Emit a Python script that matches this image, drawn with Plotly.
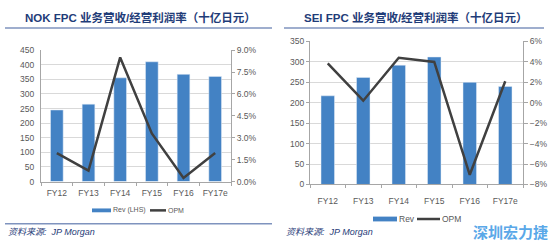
import plotly.graph_objects as go

categories = ["FY12", "FY13", "FY14", "FY15", "FY16", "FY17e"]
nok_rev = [245, 265, 355, 410, 367, 360]
nok_opm = [1.95, 0.75, 8.5, 3.3, 0.25, 1.95]
sei_rev = [217, 262, 292, 312, 250, 240]
sei_opm = [3.85, 0.2, 4.4, 4.0, -7.05, 2.1]

nok_title = "NOK FPC 业务营收/经营利润率（十亿日元）"
sei_title = "SEI FPC 业务营收/经营利润率（十亿日元）"
source_text = "资料来源:  JP Morgan"
watermark = "深圳宏力捷"

W, H = 556, 248
def px(x):
    return x / W
def py(y):
    return 1 - y / H

BAR = "#4382C4"
LINE = "#404040"
GRID = "#D9D9D9"
AXIS = "#A6A6A6"
TICKC = "#595959"
TITLEC = "#1F3C78"
RULE = "#7F93BE"
FONT = "Liberation Sans Narrow, Liberation Sans, Arial"

fig = go.Figure()
fig.add_trace(go.Bar(x=categories, y=nok_rev, marker_color=BAR, width=0.4,
                     xaxis="x", yaxis="y", showlegend=False))
fig.add_trace(go.Scatter(x=categories, y=nok_opm, mode="lines",
                         line=dict(color=LINE, width=2.5),
                         xaxis="x", yaxis="y2", showlegend=False))
fig.add_trace(go.Bar(x=categories, y=sei_rev, marker_color=BAR, width=0.38,
                     xaxis="x2", yaxis="y3", showlegend=False))
fig.add_trace(go.Scatter(x=categories, y=sei_opm, mode="lines",
                         line=dict(color=LINE, width=2.5),
                         xaxis="x2", yaxis="y4", showlegend=False))

tickfont = dict(family=FONT, size=8.5, color=TICKC)
xtickfont = dict(family=FONT, size=8.5, color=TICKC)
xcommon = dict(type="category", showline=True, linecolor=AXIS, linewidth=1,
               ticks="outside", tickson="boundaries", ticklen=3, tickcolor=AXIS,
               tickfont=xtickfont, tickangle=0, showgrid=False, zeroline=False,
               fixedrange=True)

fig.update_layout(
    width=W, height=H, margin=dict(l=0, r=0, t=0, b=0),
    paper_bgcolor="white", plot_bgcolor="white", showlegend=False,
    bargap=0.6,
    xaxis=dict(domain=[px(41), px(231)], anchor="y", ticklabelstandoff=3, **xcommon),
    yaxis=dict(domain=[py(184), py(47)], anchor="x", range=[0, 450], dtick=50,
               showline=True, linecolor=AXIS, showgrid=True, gridcolor=GRID,
               zeroline=False, ticks="", tickfont=tickfont, ticklabelstandoff=4),
    yaxis2=dict(overlaying="y", side="right", anchor="x", range=[0, 9], dtick=1.5,
                tickformat=".1f", ticksuffix="%", showgrid=False, zeroline=False,
                showline=True, linecolor=AXIS, ticks="outside", ticklen=3,
                tickcolor=AXIS, tickfont=tickfont),
    xaxis2=dict(domain=[px(310), px(523)], anchor="y3", ticklabelstandoff=8, **xcommon),
    yaxis3=dict(domain=[py(187), py(38)], anchor="x2", range=[0, 350], dtick=50,
                showline=True, linecolor=AXIS, showgrid=True, gridcolor=GRID,
                zeroline=False, ticks="outside", ticklen=3, tickcolor=AXIS,
                tickfont=tickfont),
    yaxis4=dict(overlaying="y3", side="right", anchor="x2", range=[-8, 6], dtick=2,
                tickformat="d", ticksuffix="%", showgrid=False, zeroline=False,
                showline=True, linecolor=AXIS, ticks="outside", ticklen=4,
                tickcolor=AXIS, tickfont=tickfont),
)

shapes = []
shapes.append(dict(type="line", xref="paper", yref="paper", x0=px(5), x1=px(272),
                   y0=py(24), y1=py(24), line=dict(color=RULE, width=1.5)))
shapes.append(dict(type="line", xref="paper", yref="paper", x0=px(284), x1=px(544),
                   y0=py(24), y1=py(24), line=dict(color=RULE, width=1.5)))
shapes.append(dict(type="line", xref="paper", yref="paper", x0=px(5), x1=px(272),
                   y0=py(228), y1=py(228), line=dict(color=RULE, width=1.5)))
shapes.append(dict(type="rect", xref="paper", yref="paper", x0=px(92), x1=px(111),
                   y0=py(216), y1=py(212), fillcolor=BAR, line=dict(width=0)))
shapes.append(dict(type="line", xref="paper", yref="paper", x0=px(150), x1=px(166),
                   y0=py(214), y1=py(214), line=dict(color=LINE, width=2.5)))
shapes.append(dict(type="rect", xref="paper", yref="paper", x0=px(373), x1=px(397),
                   y0=py(225.5), y1=py(220.5), fillcolor=BAR, line=dict(width=0)))
shapes.append(dict(type="line", xref="paper", yref="paper", x0=px(417), x1=px(440),
                   y0=py(223), y1=py(223), line=dict(color=LINE, width=2.5)))
fig.update_layout(shapes=shapes)

ann = []
def text(x, y, s, size, color, xanchor="center", bold=False, italic=False, family=FONT):
    if bold:
        s = "<b>" + s + "</b>"
    if italic:
        s = "<i>" + s + "</i>"
    ann.append(dict(x=px(x), y=py(y), xref="paper", yref="paper", text=s,
                    showarrow=False, xanchor=xanchor, yanchor="middle",
                    font=dict(size=size, color=color, family=family)))

TFONT = "Liberation Sans, Noto Sans CJK SC"
text(140, 13, nok_title, 11.5, TITLEC, bold=True, family=TFONT)
text(416, 13, sei_title, 11.5, TITLEC, bold=True, family=TFONT)
text(111, 214, "Rev (LHS)", 7, TICKC, xanchor="left")
text(166, 214, "OPM", 7, TICKC, xanchor="left")
text(397, 223, "Rev", 8.5, TICKC, xanchor="left")
text(440, 223, "OPM", 8.5, TICKC, xanchor="left")
text(6, 237, source_text, 9, TITLEC, xanchor="left", italic=True,
     family="Liberation Sans, Noto Sans CJK SC")
text(284, 237, source_text, 9, TITLEC, xanchor="left", italic=True,
     family="Liberation Sans, Noto Sans CJK SC")
text(510, 236, watermark, 15, "#5AA8E8", bold=True, family="Noto Sans CJK SC")
fig.update_layout(annotations=ann)

fig.write_html("out.html")
